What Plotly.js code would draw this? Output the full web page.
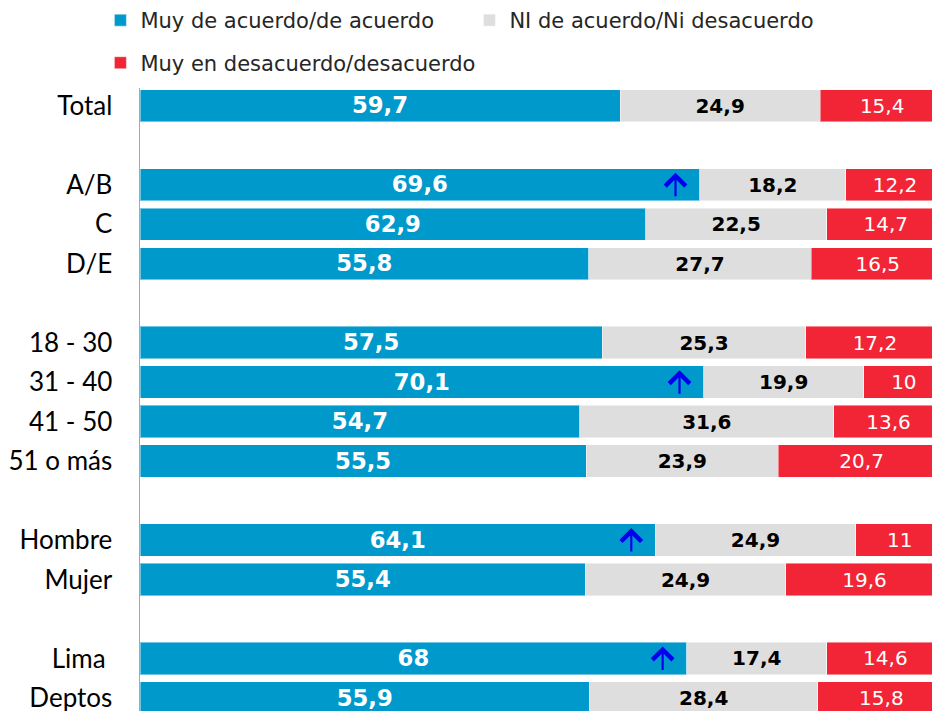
<!DOCTYPE html>
<html>
<head>
<meta charset="utf-8">
<script src="https://cdn.plot.ly/plotly-3.0.1.min.js"></script>
<style>
  body { margin: 0; background: #fff; }
  #plot { width: 932px; height: 711px; }
</style>
</head>
<body>
<div id="plot"></div>
<script>
// categories (blank ones are the spacer rows)
var categories = ["Total", " ", "A/B", "C", "D/E", "  ", "18 - 30", "31 - 40", "41 - 50", "51 o más",
  "   ", "Hombre", "Mujer", "    ", "Lima ", "Deptos"];

var rows = ["Total", "A/B", "C", "D/E", "18 - 30", "31 - 40", "41 - 50", "51 o más", "Hombre", "Mujer", "Lima ", "Deptos"];
var acuerdo    = [59.7, 69.6, 62.9, 55.8, 57.5, 70.1, 54.7, 55.5, 64.1, 55.4, 68, 55.9];
var ni         = [24.9, 18.2, 22.5, 27.7, 25.3, 19.9, 31.6, 23.9, 24.9, 24.9, 17.4, 28.4];
var desacuerdo = [15.4, 12.2, 14.7, 16.5, 17.2, 10, 13.6, 20.7, 11, 19.6, 14.6, 15.8];

// rows marked with the blue up arrow
var sube = ["A/B", "31 - 40", "Hombre", "Lima "];

function lbl(arr) {
  return arr.map(function (v) { return String(v).replace(".", ","); });
}

var edge = {color: "rgba(255,255,255,0.45)", width: 1};

var trace1 = {
  y: rows, x: acuerdo, type: "bar", orientation: "h",
  name: "Muy de acuerdo/de acuerdo",
  marker: {color: "#0099CC", line: edge},
  text: lbl(acuerdo), textposition: "inside", insidetextanchor: "middle", textangle: 0,
  textfont: {family: "DejaVu Sans", size: 25, color: "#ffffff", weight: "bold"},
  hoverinfo: "none", legend: "legend"
};
var trace2 = {
  y: rows, x: ni, type: "bar", orientation: "h",
  name: "NI de acuerdo/Ni desacuerdo",
  marker: {color: "#DEDEDE", line: edge},
  text: lbl(ni), textposition: "inside", insidetextanchor: "middle", textangle: 0,
  textfont: {family: "DejaVu Sans", size: 20, color: "#000000", weight: "bold"},
  hoverinfo: "none", legend: "legend"
};
var trace3 = {
  y: rows, x: desacuerdo, type: "bar", orientation: "h",
  name: "Muy en desacuerdo/desacuerdo",
  marker: {color: "#F22536", line: edge},
  text: lbl(desacuerdo), textposition: "inside", insidetextanchor: "middle", textangle: 0,
  textfont: {family: "DejaVu Sans", size: 20, color: "#ffffff"},
  hoverinfo: "none", legend: "legend2"
};

var data = [trace1, trace2, trace3];

// arrows inside the blue bars
var annotations = sube.map(function (r) {
  var i = rows.indexOf(r);
  return {
    x: acuerdo[i] - 3, y: r, xref: "x", yref: "y",
    text: "", font: {size: 1}, borderpad: 0,
    showarrow: true, ax: 0, ay: 24, yshift: 12,
    arrowhead: 4, arrowsize: 1.8, arrowwidth: 2.2, arrowcolor: "#0000EE"
  };
});

var layout = {
  width: 932, height: 711,
  margin: {l: 140, r: 0, t: 85, b: 0},
  barmode: "stack", bargap: 0.18,
  separators: ",.",
  paper_bgcolor: "#ffffff", plot_bgcolor: "#ffffff",
  showlegend: true,
  legend: {
    orientation: "h", x: -0.05, xanchor: "left", y: 1.1086, yanchor: "middle",
    font: {family: "DejaVu Sans", size: 21, color: "#262626"},
    entrywidth: 324, entrywidthmode: "pixels", traceorder: "normal"
  },
  legend2: {
    orientation: "h", x: -0.05, xanchor: "left", y: 1.04, yanchor: "middle",
    font: {family: "DejaVu Sans", size: 21, color: "#262626"}
  },
  xaxis: {range: [0, 98.5], showgrid: false, zeroline: false, showticklabels: false, fixedrange: true},
  yaxis: {
    type: "category", categoryorder: "array", categoryarray: categories,
    range: [15.33, -0.45], showgrid: false, zeroline: false,
    showline: true, linecolor: "#A6A6A6", linewidth: 1.5,
    ticks: "", ticklabelstandoff: 21,
    tickfont: {family: "Lato", size: 26, color: "#000000"}
  },
  annotations: annotations
};

Plotly.newPlot("plot", data, layout, {displayModeBar: false, staticPlot: true});
</script>
</body>
</html>
